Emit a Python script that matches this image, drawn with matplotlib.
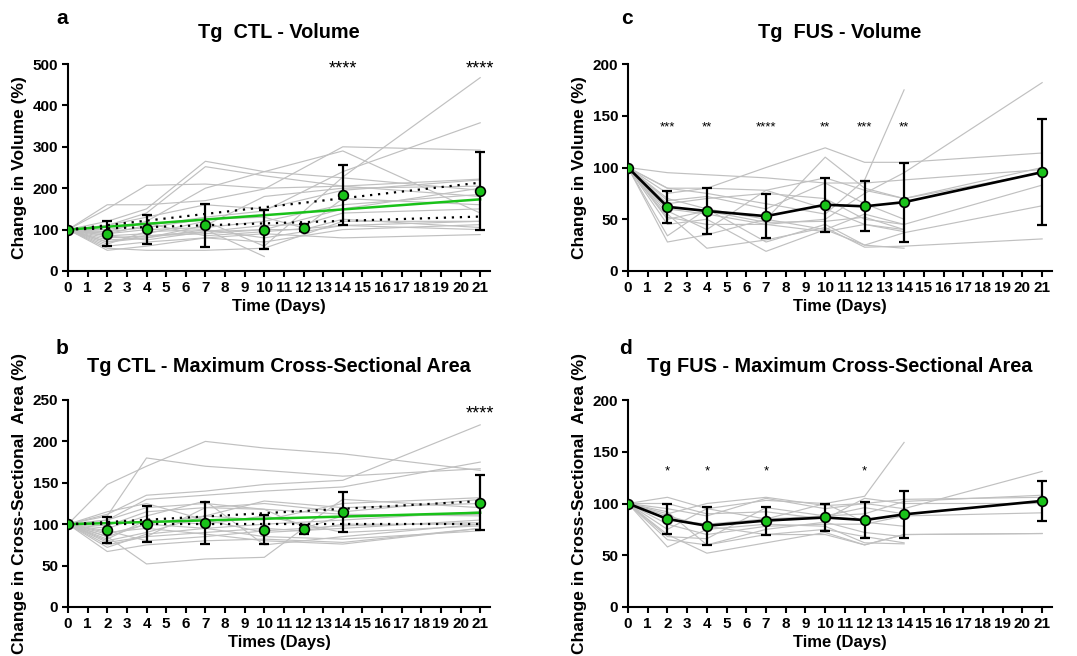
import numpy as np
import matplotlib
matplotlib.use("Agg")
import matplotlib.pyplot as plt

plt.rcParams['font.family'] = ['Liberation Sans', 'DejaVu Sans']
plt.rcParams['font.weight'] = 'bold'

days = [0, 2, 4, 7, 10, 12, 14, 21]

# individual animals, one list per animal (None = not measured)
N = None
ctl_vol = [
    [100, 120, 150, 265, 240, N, 225, 195],
    [100, 110, 140, 252, 230, N, 205, 180],
    [100, 150, 207, 210, 200, N, 205, 222],
    [100, 160, 160, 170, 198, N, 300, 292],
    [100, 95, 120, 200, 240, N, 290, 140],
    [100, 85, 90, 120, 60, N, 227, 467],
    [100, 90, 110, 130, 145, N, 240, 358],
    [100, 70, 80, 100, 35, N, N, N],
    [100, 55, 50, 50, 55, N, 120, 120],
    [100, 60, 70, 80, 90, N, 80, 88],
    [100, 80, 85, 95, 100, N, 150, 200],
    [100, 75, 80, 110, 180, N, 200, 205],
    [100, 65, 95, 100, 80, N, 110, 120],
    [100, 90, 100, 105, 120, N, 160, 185],
    [100, 85, 75, 95, 110, 112, 140, 150],
    [100, 70, 85, 90, 100, 100, 125, 105],
    [100, 110, 130, 160, 150, N, 195, 220],
    [100, 95, 105, 125, 130, 104, 175, 160],
    [100, 50, 60, 80, 70, N, 100, 112],
    [100, 100, 115, 85, 95, N, 110, 100],
]
ctl_area = [
    [100, 148, 170, 200, 192, N, 185, 165],
    [100, 110, 180, 170, 165, N, 158, 167],
    [100, 112, 135, 140, 148, N, 153, 220],
    [100, 105, 130, 135, 140, N, 145, 175],
    [100, 85, 52, 58, 60, 95, 110, 112],
    [100, 67, 75, 80, 82, N, 78, 95],
    [100, 75, 85, 120, 125, N, 115, 130],
    [100, 80, 90, 110, 128, N, 120, 125],
    [100, 95, 110, 128, 75, N, 85, 100],
    [100, 85, 100, 95, 100, N, 105, 115],
    [100, 115, 125, 105, 90, N, 95, 105],
    [100, 90, 95, 88, 80, N, 76, 95],
    [100, 78, 85, 90, 95, 92, 100, 100],
    [100, 88, 100, 110, 105, N, 125, 132],
    [100, 105, 120, 125, 118, N, 112, 110],
    [100, 92, 80, 85, 92, N, 98, 102],
    [100, 82, 105, 100, 110, N, 90, 98],
    [100, 98, 115, 120, 118, 97, 130, 120],
    [100, 72, 88, 95, 85, N, 82, 92],
]
fus_vol = [
    [100, 75, 80, 100, 119, 105, 105, 114],
    [100, 70, 60, 50, 110, 80, 70, 100],
    [100, 95, 93, 90, 85, 85, 88, 98],
    [100, 80, 75, 65, 55, 88, 175, N],
    [100, 60, 55, 45, 50, 75, 95, 182],
    [100, 28, 35, 50, 40, 25, 22, N],
    [100, 34, 60, 28, 45, 25, 37, 63],
    [100, 55, 22, 30, 42, 23, 24, 31],
    [100, 45, 50, 19, 40, 55, 45, 83],
    [100, 65, 70, 75, 70, 50, 45, N],
    [100, 50, 58, 47, 48, 52, 40, N],
    [100, 68, 72, 60, 85, 65, 50, N],
    [100, 52, 45, 45, 38, 45, 40, N],
    [100, 80, 80, 78, 90, 78, 70, 95],
    [100, 58, 40, 78, 60, 45, 38, N],
]
fus_area = [
    [100, 106, 95, 103, 100, 107, 159, N],
    [100, 58, 75, 80, 78, 62, 61, N],
    [100, 70, 52, 62, 72, 60, 70, 71],
    [100, 90, 100, 106, 98, 100, 95, 131],
    [100, 85, 80, 85, 88, 90, 102, 108],
    [100, 95, 88, 105, 95, 100, 104, 106],
    [100, 65, 60, 70, 75, 68, 62, N],
    [100, 100, 90, 92, 85, 105, 100, 100],
    [100, 80, 70, 78, 80, 80, 88, 91],
    [100, 75, 95, 85, 100, 82, 78, N],
    [100, 92, 60, 75, 82, 72, 68, N],
    [100, 68, 66, 96, 88, 96, 90, N],
    [100, 88, 78, 70, 70, 60, 70, 71],
]

# group means and SD
ctl_vol_mean = [100, 90, 101, 110, 100, 105, 184, 194]
ctl_vol_sd = [0, 30, 35, 51, 47, 8, 72, 94]
ctl_area_mean = [100, 93, 100, 101.5, 93.5, 94, 115, 126]
ctl_area_sd = [0, 16, 21.5, 25.5, 17.5, 5.5, 24, 33.5]
fus_vol_mean = [100, 62, 58, 53, 64, 62.5, 66.5, 95.5]
fus_vol_sd = [0, 15.5, 22, 21, 26, 24, 38, 51.5]
fus_area_mean = [100, 85, 78.5, 83.5, 86.5, 84, 89.5, 102.5]
fus_area_sd = [0, 14.5, 18.5, 13.5, 13.5, 17, 23, 19.5]

# linear fit through 100 at day 0: slope, lower CI slope, upper CI slope
ctl_vol_fit = [3.48, 1.5, 5.4]
ctl_area_fit = [0.66, 0.0, 1.33]

# significance marks
ctl_vol_stars = {14: '****', 21: '****'}
ctl_area_stars = {21: '****'}
fus_vol_stars = {2: '***', 4: '**', 7: '****', 10: '**', 12: '***', 14: '**'}
fus_area_stars = {2: '*', 4: '*', 7: '*', 12: '*'}

GREEN = '#19c219'
GRAY = '#c0c0c0'


def draw_panel(ax, indiv, mean, sd, ymax, ystep, ylabel, xlabel,
               stars, star_y, star_size, fit=None, mean_line=False):
    for animal in indiv:
        xs = [d for d, v in zip(days, animal) if v is not None]
        ys = [v for v in animal if v is not None]
        ax.plot(xs, ys, color=GRAY, lw=0.85, zorder=1)
    if fit is not None:
        xf = np.array([0, 21])
        ax.plot(xf, 100 + fit[0] * xf, color=GREEN, lw=1.8, zorder=3)
        for s in fit[1:]:
            ax.plot(xf, 100 + s * xf, color='black', lw=1.6,
                    ls=(0, (1, 2.6)), zorder=3)
    ax.errorbar(days, mean, yerr=sd, fmt='none', ecolor='black',
                elinewidth=1.6, capsize=3.5, capthick=1.6, zorder=4)
    if mean_line:
        ax.plot(days, mean, color='black', lw=1.9, zorder=4)
    ax.plot(days, mean, 'o', ms=7, mfc=GREEN, mec='black', mew=1.2, zorder=5)
    for d, s in stars.items():
        ax.text(d, star_y, s, ha='center', va='center', fontsize=star_size,
                fontweight='normal')

    ax.set_xlim(0, 21.5)
    ax.set_ylim(0, ymax)
    ax.set_xticks(range(22))
    ax.set_yticks(np.arange(0, ymax + 1, ystep))
    ax.spines['top'].set_visible(False)
    ax.spines['right'].set_visible(False)
    for sp in ['left', 'bottom']:
        ax.spines[sp].set_linewidth(1.5)
    ax.tick_params(width=1.5, length=4, labelsize=11, pad=3)
    ax.set_xlabel(xlabel, fontsize=12, fontweight='bold', labelpad=3)
    ax.set_ylabel(ylabel, fontsize=12.5, fontweight='bold', labelpad=4)


fig = plt.figure(figsize=(10.77, 6.56), dpi=100)
W, H = 1077, 656


def axes_px(left, top, right, bottom):
    return fig.add_axes([left / W, 1 - bottom / H, (right - left) / W,
                         (bottom - top) / H])


ax_a = axes_px(68, 64, 490, 271)
ax_c = axes_px(628, 64, 1052, 271)
ax_b = axes_px(68, 400, 490, 607)
ax_d = axes_px(628, 400, 1052, 607)

draw_panel(ax_a, ctl_vol, ctl_vol_mean, ctl_vol_sd, 500, 100,
           'Change in Volume (%)', 'Time (Days)', ctl_vol_stars, 488, 13,
           fit=ctl_vol_fit)
draw_panel(ax_b, ctl_area, ctl_area_mean, ctl_area_sd, 250, 50,
           'Change in Cross-Sectional  Area (%)', 'Times (Days)',
           ctl_area_stars, 233, 13, fit=ctl_area_fit)
draw_panel(ax_c, fus_vol, fus_vol_mean, fus_vol_sd, 200, 50,
           'Change in Volume (%)', 'Time (Days)', fus_vol_stars, 139, 9.5,
           mean_line=True)
draw_panel(ax_d, fus_area, fus_area_mean, fus_area_sd, 200, 50,
           'Change in Cross-Sectional  Area (%)', 'Time (Days)',
           fus_area_stars, 131, 9.5, mean_line=True)

titles = [(279, 32, 'Tg  CTL - Volume'), (840, 32, 'Tg  FUS - Volume'),
          (279, 367, 'Tg CTL - Maximum Cross-Sectional Area'),
          (840, 367, 'Tg FUS - Maximum Cross-Sectional Area')]
for x, y, t in titles:
    fig.text(x / W, 1 - y / H, t, ha='center', va='center', fontsize=14.3,
             fontweight='bold')

letters = [(62, 18, 'a'), (627, 18, 'c'), (62, 348, 'b'), (626, 348, 'd')]
for x, y, t in letters:
    fig.text(x / W, 1 - y / H, t, ha='center', va='center', fontsize=15,
             fontweight='bold')

fig.savefig('out.png', dpi=100)
